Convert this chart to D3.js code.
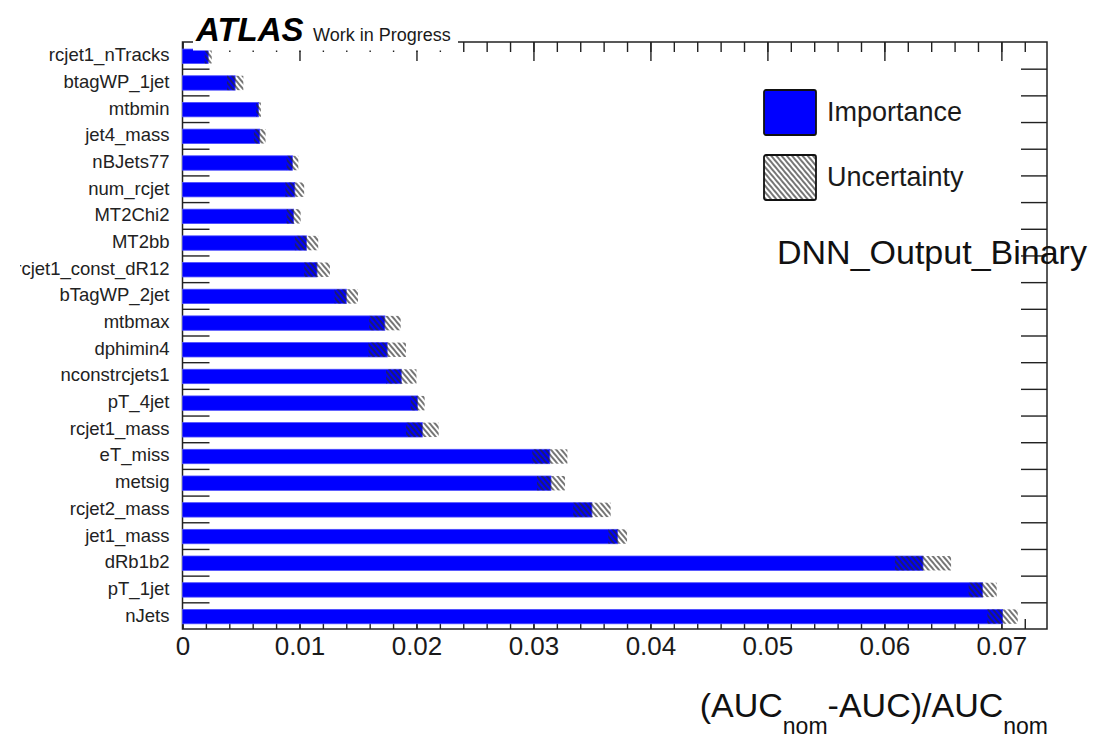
<!DOCTYPE html>
<html>
<head>
<meta charset="utf-8">
<script src="https://cdn.jsdelivr.net/npm/d3@7"></script>
<style>
  body { margin: 0; background: #fff; }
  svg text { font-family: "Liberation Sans", Arial, Helvetica, sans-serif; }
</style>
</head>
<body>
<svg id="chart" width="1114" height="739"></svg>
<script>

// features, top row first
var features = ["rcjet1_nTracks", "btagWP_1jet", "mtbmin", "jet4_mass", "nBJets77",
    "num_rcjet", "MT2Chi2", "MT2bb", "rcjet1_const_dR12", "bTagWP_2jet", "mtbmax",
    "dphimin4", "nconstrcjets1", "pT_4jet", "rcjet1_mass", "eT_miss", "metsig",
    "rcjet2_mass", "jet1_mass", "dRb1b2", "pT_1jet", "nJets"];

var importance = [0.0022, 0.0045, 0.0065, 0.0066, 0.0094, 0.0096, 0.0095, 0.0106,
    0.0115, 0.0140, 0.0173, 0.0175, 0.0187, 0.0201, 0.0205, 0.0314, 0.0315, 0.0350,
    0.0372, 0.0633, 0.0684, 0.0701];

var uncertainty = [0.0003, 0.0007, 0.0002, 0.0005, 0.0005, 0.0008, 0.0006, 0.0010,
    0.0011, 0.0010, 0.00135, 0.0016, 0.0013, 0.0006, 0.0014, 0.0015, 0.0012, 0.0016,
    0.0008, 0.0024, 0.0012, 0.0013];

var xMajor = [0, 0.01, 0.02, 0.03, 0.04, 0.05, 0.06, 0.07];
var xMax = 0.0739;

var legendItems = ["Importance", "Uncertainty"];


Imp = {};

Imp.init = function() {
    this.svg = d3.select('#chart');
    this.left = 182.5;
    this.right = 1047;
    this.top = 42;
    this.bottom = 629;

    this.x = d3.scaleLinear()
        .domain([0, xMax])
        .range([this.left, this.right]);
    this.y = d3.scaleBand()
        .domain(features)
        .range([this.top, this.bottom]);
    this.yEdge = d3.scaleLinear()
        .domain([0, features.length])
        .range([this.top, this.bottom]);

    this.defs();
    this.drawAxes();
    this.drawBars();
    this.drawText();
};


Imp.defs = function() {
    var pat = this.svg.append('defs')
        .append('pattern')
        .attr('id', 'hatch')
        .attr('patternUnits', 'userSpaceOnUse')
        .attr('width', 4)
        .attr('height', 10)
        .attr('patternTransform', 'rotate(-40)');
    pat.append('line')
        .attr('x1', 1).attr('y1', 0)
        .attr('x2', 1).attr('y2', 10)
        .attr('stroke', '#2a2a2a')
        .attr('stroke-width', 1.3);
};


Imp.drawAxes = function() {
    var self = this;
    var minor = d3.range(0, 37).map(function(i) { return i * 0.002; });
    var clean = function(g) { g.select('.domain').remove(); };
    var tickStyle = function(g) {
        g.selectAll('line').attr('stroke', '#222').attr('stroke-width', 1.4);
    };

    // x ticks on bottom (pointing up) and top (pointing down)
    [[d3.axisTop, self.bottom], [d3.axisBottom, self.top]].forEach(function(a) {
        self.svg.append('g')
            .attr('transform', 'translate(0,' + a[1] + ')')
            .call(a[0](self.x).tickValues(minor).tickSize(10).tickFormat(''))
            .call(clean).call(tickStyle);
        self.svg.append('g')
            .attr('transform', 'translate(0,' + a[1] + ')')
            .call(a[0](self.x).tickValues(xMajor).tickSize(19).tickFormat(''))
            .call(clean).call(tickStyle);
    });

    // x labels
    self.svg.append('g')
        .attr('transform', 'translate(0,' + self.bottom + ')')
        .call(d3.axisBottom(self.x).tickValues(xMajor).tickSize(0).tickPadding(8)
            .tickFormat(function(d) { return d === 0 ? '0' : d3.format('.2f')(d); }))
        .call(clean)
        .selectAll('text')
        .attr('font-size', 26)
        .attr('fill', '#1a1a1a')
        .attr('font-family', '"Liberation Sans", Arial, sans-serif');

    // y bin-edge ticks, left and right
    var edges = d3.range(1, features.length);
    self.svg.append('g')
        .attr('transform', 'translate(' + self.left + ',0)')
        .call(d3.axisRight(self.yEdge).tickValues(edges).tickSize(27).tickFormat(''))
        .call(clean).call(tickStyle);
    self.svg.append('g')
        .attr('transform', 'translate(' + self.right + ',0)')
        .call(d3.axisLeft(self.yEdge).tickValues(edges).tickSize(26).tickFormat(''))
        .call(clean).call(tickStyle);

    // y labels, clipped at the canvas edge like the original
    self.svg.append('clipPath').attr('id', 'labclip')
        .append('rect').attr('x', 20).attr('y', 0).attr('width', 1094).attr('height', 739);
    self.svg.append('g')
        .attr('clip-path', 'url(#labclip)')
        .append('g')
        .attr('transform', 'translate(' + self.left + ',0)')
        .call(d3.axisLeft(self.y).tickSize(0).tickPadding(13))
        .call(clean)
        .selectAll('text')
        .attr('font-size', 18.5)
        .attr('fill', '#222')
        .attr('font-family', '"Liberation Sans", Arial, sans-serif');

    // frame
    self.svg.append('rect')
        .attr('x', self.left).attr('y', self.top)
        .attr('width', self.right - self.left)
        .attr('height', self.bottom - self.top)
        .attr('fill', 'none')
        .attr('stroke', '#222')
        .attr('stroke-width', 1.5);
};


Imp.drawBars = function() {
    var self = this;
    var bw = self.y.bandwidth();

    self.svg.append('g').selectAll('rect')
        .data(features)
        .join('rect')
        .attr('x', self.x(0))
        .attr('y', function(d) { return self.y(d) + bw * 0.265; })
        .attr('width', function(d, i) { return self.x(importance[i]) - self.x(0); })
        .attr('height', bw * 0.54)
        .attr('fill', '#0000ff')
        .attr('stroke', '#4d4dff')
        .attr('stroke-width', 0.8);

    self.svg.append('g').selectAll('rect')
        .data(features)
        .join('rect')
        .attr('x', function(d, i) { return self.x(importance[i] - uncertainty[i]); })
        .attr('y', function(d) { return self.y(d) + bw * 0.265; })
        .attr('width', function(d, i) {
            return self.x(importance[i] + uncertainty[i]) - self.x(importance[i] - uncertainty[i]);
        })
        .attr('height', bw * 0.54)
        .attr('fill', 'url(#hatch)');
};


Imp.drawText = function() {
    var svg = this.svg;

    // white box behind the ATLAS label
    svg.append('rect')
        .attr('x', 193).attr('y', 10)
        .attr('width', 265).attr('height', 40.5)
        .attr('fill', '#fff');
    svg.append('text')
        .attr('x', 196).attr('y', 41)
        .attr('font-size', 33)
        .attr('font-weight', 'bold')
        .attr('font-style', 'italic')
        .text('ATLAS');
    svg.append('text')
        .attr('x', 313).attr('y', 41)
        .attr('font-size', 18)
        .attr('fill', '#1a1a1a')
        .text('Work in Progress');

    // legend
    var lg = svg.append('g').selectAll('g')
        .data(legendItems)
        .join('g')
        .attr('transform', function(d, i) { return 'translate(764,' + (90 + i * 65) + ')'; });
    lg.append('rect')
        .attr('width', 52).attr('height', 45)
        .attr('rx', 2)
        .attr('fill', function(d, i) { return i === 0 ? '#0000ff' : 'url(#hatch)'; })
        .attr('stroke', '#111')
        .attr('stroke-width', 1.8);
    lg.append('text')
        .attr('x', 63).attr('y', 30.5)
        .attr('font-size', 27)
        .attr('fill', '#1a1a1a')
        .text(function(d) { return d; });

    svg.append('text')
        .attr('x', 777).attr('y', 264)
        .attr('font-size', 34)
        .attr('fill', '#111')
        .text('DNN_Output_Binary');

    // axis title
    var t = svg.append('text')
        .attr('x', 1048).attr('y', 717)
        .attr('text-anchor', 'end')
        .attr('font-size', 34)
        .attr('fill', '#111');
    t.append('tspan').text('(AUC');
    t.append('tspan').attr('dy', 17).attr('font-size', 23).text('nom');
    t.append('tspan').attr('dy', -17).text('-AUC)/AUC');
    t.append('tspan').attr('dy', 17).attr('font-size', 23).text('nom');
};


Imp.init();

</script>
</body>
</html>
